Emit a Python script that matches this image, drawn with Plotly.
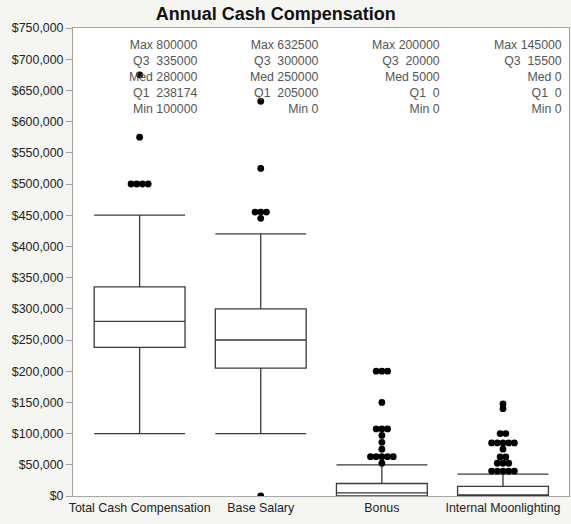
import plotly.graph_objects as go
from collections import Counter

# ---- data ----
categories = ["Total Cash Compensation", "Base Salary", "Bonus", "Internal Moonlighting"]
max_vals = [800000, 632500, 200000, 145000]
q3_vals = [335000, 300000, 20000, 15500]
med_vals = [280000, 250000, 5000, 0]
q1_vals = [238174, 205000, 0, 0]
min_vals = [100000, 0, 0, 0]
upper_whisker = [450000, 420000, 50000, 35000]
lower_whisker = [100000, 100000, 0, 0]

outliers_total = [500000, 500000, 500000, 500000, 575000, 675000, 800000]
outliers_base = [0, 445000, 455000, 455000, 455000, 525000, 632500]
outliers_bonus = [52500, 63000, 63000, 63000, 63000, 63000, 75000, 86000, 97000,
                  107500, 107500, 107500, 150000, 200000, 200000, 200000]
outliers_moon = [40000, 40000, 40000, 40000, 40000, 52500, 52500, 52500, 62500, 62500,
                 75000, 85000, 85000, 85000, 85000, 85000, 100000, 100000, 140000, 147500]
outliers = [outliers_total, outliers_base, outliers_bonus, outliers_moon]

y_ticks = list(range(0, 750001, 50000))

# ---- styles ----
FONT = "Liberation Sans, Arial, Helvetica, sans-serif"
LINE = "#3a3a3a"
DOT_STEP = 0.047  # horizontal spacing for stacked equal outliers (x units)

fig = go.Figure()

for i, cat in enumerate(categories):
    fig.add_trace(go.Box(
        x=[i], q1=[q1_vals[i]], median=[med_vals[i]], q3=[q3_vals[i]],
        lowerfence=[lower_whisker[i]], upperfence=[upper_whisker[i]],
        boxpoints=False, width=0.75, whiskerwidth=1,
        fillcolor="white", line=dict(color=LINE, width=1.3),
        name=cat, showlegend=False, hoverinfo="skip",
    ))
    # beeswarm-like spreading of identical values
    counts = Counter(outliers[i])
    xs, ys = [], []
    for val, n in counts.items():
        for k in range(n):
            xs.append(i + (k - (n - 1) / 2) * DOT_STEP)
            ys.append(val)
    fig.add_trace(go.Scatter(
        x=xs, y=ys, mode="markers", cliponaxis=True,
        marker=dict(color="black", size=6.8, line=dict(width=0)),
        showlegend=False, hoverinfo="skip",
    ))

    nb = "\u00a0"
    txt = "<br>".join([
        f"Max{nb}{max_vals[i]}",
        f"Q3{nb}{nb}{q3_vals[i]}",
        f"Med{nb}{med_vals[i]}",
        f"Q1{nb}{nb}{q1_vals[i]}",
        f"Min{nb}{min_vals[i]}",
    ])
    fig.add_annotation(
        x=i + 0.5, xref="x", y=1.0, yref="paper", yshift=-8,
        text=txt, showarrow=False, xanchor="right", yanchor="top", align="right",
        font=dict(family=FONT, size=12.3, color="#555555"),
    )

fig.update_layout(
    width=571, height=524,
    margin=dict(l=73, r=2, t=28, b=28, autoexpand=False),
    paper_bgcolor="#f5f5f1", plot_bgcolor="white",
    title=dict(text="<b>Annual Cash Compensation</b>", x=0.483, xanchor="center",
               y=0.973, yanchor="middle",
               font=dict(family=FONT, size=18, color="#111111")),
    font=dict(family=FONT, size=12, color="#222222"),
    showlegend=False,
)
fig.update_xaxes(
    range=[-0.55, 3.545], tickvals=list(range(len(categories))), ticktext=categories,
    showgrid=False, zeroline=False, showline=True, linecolor="#a8a8a8", linewidth=1,
    mirror=True, ticks="", tickfont=dict(family=FONT, size=12.4, color="#222222"),
    automargin=False,
)
fig.update_yaxes(
    range=[0, 750000], tickvals=y_ticks, tickformat="$,.0f",
    showgrid=False, zeroline=False, showline=True, linecolor="#a0a0a0", linewidth=1,
    mirror=True, ticks="outside", ticklen=6, tickcolor="#a0a0a0",
    tickfont=dict(family=FONT, size=12.4, color="#222222"), automargin=False,
)

fig.write_html("out.html", config={"displayModeBar": False},
               post_script="document.body.style.margin='0';")
